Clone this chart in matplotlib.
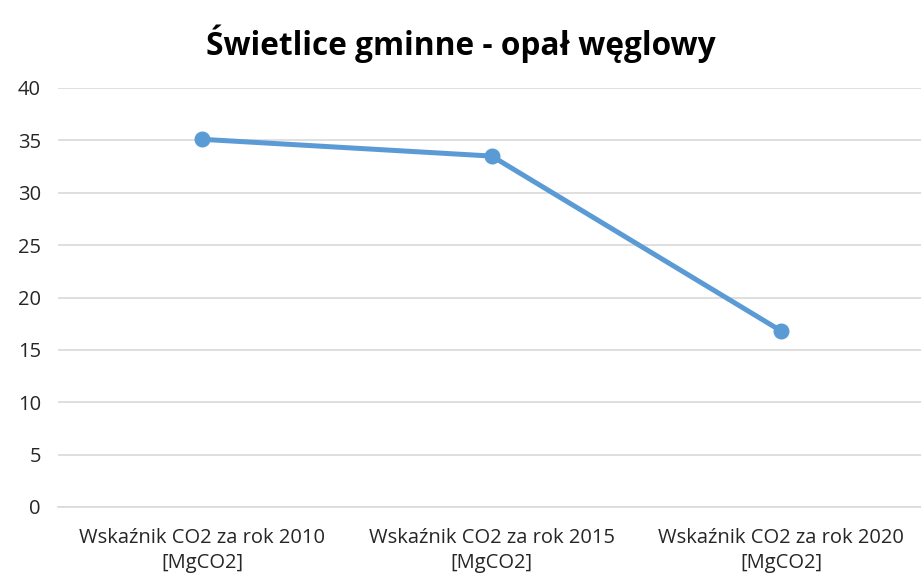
import matplotlib
matplotlib.use("Agg")
import matplotlib.pyplot as plt

categories = ["Wskaźnik CO2 za rok 2010\n[MgCO2]",
              "Wskaźnik CO2 za rok 2015\n[MgCO2]",
              "Wskaźnik CO2 za rok 2020\n[MgCO2]"]
values = [35.1, 33.5, 16.8]
yticks = [0, 5, 10, 15, 20, 25, 30, 35, 40]
title = "Świetlice gminne - opał węglowy"

plt.rcParams['font.family'] = ['Open Sans', 'DejaVu Sans']

fig = plt.figure(figsize=(9.21, 5.77), dpi=100)
ax = fig.add_axes([57.5/921, 1 - 507/577, (926 - 57.5)/921, (507 - 88)/577])

x = list(range(len(categories)))
ax.plot(x, values, color="#5B9BD5", linewidth=3.6, marker="o", markersize=10.5,
        solid_capstyle="round", zorder=3)

ax.set_xlim(-0.5, len(categories) - 0.5)
ax.set_ylim(0, 40)
ax.set_yticks(yticks)
ax.set_xticks(x)
ax.set_xticklabels(categories, fontsize=14.5, color="#262626", linespacing=1.35)
ax.tick_params(axis='y', labelsize=14.5, labelcolor="#262626", length=0, pad=12)
ax.tick_params(axis='x', length=0, pad=15)
ax.grid(axis='y', color="#D9D9D9", linewidth=1.2)
ax.set_axisbelow(True)
for s in ["top", "right", "left"]:
    ax.spines[s].set_visible(False)
ax.spines["bottom"].set_color("#D9D9D9")
ax.spines["bottom"].set_linewidth(1.2)

fig.text(0.5, 1 - 44/577, title, ha="center", va="center", fontsize=22.8,
         fontweight="bold", color="#000000")

fig.savefig("out.png", dpi=100, facecolor="white")
